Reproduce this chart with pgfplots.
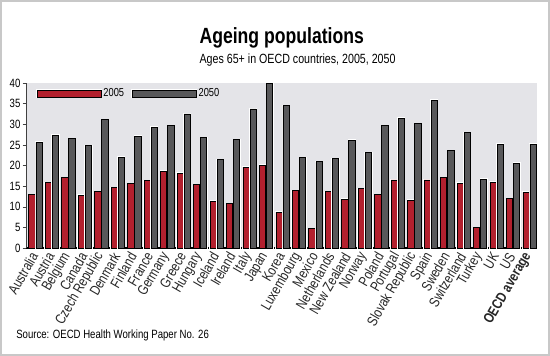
\documentclass[border=0pt]{standalone}
\usepackage{pgfplots}
\usepackage{pgfplotstable}
\pgfplotsset{compat=1.18}
\usepackage{fontspec}
\setmainfont{Liberation Sans}[FakeStretch=0.8]
\definecolor{barred}{HTML}{B3202E}
\definecolor{bargray}{HTML}{58585A}
\definecolor{bgc}{HTML}{E4E4E8}
\definecolor{framec}{HTML}{C8C8C8}

\pgfplotstableread{
idx y05 y50
0  12.9 25.6
1  15.8 27.3
2  17.1 26.5
3  12.8 24.8
4  13.7 31.1
5  14.6 22.0
6  15.6 27.1
7  16.3 29.3
8  18.6 29.7
9  18.1 32.5
10 15.4 26.8
11 11.3 21.4
12 10.8 26.3
13 19.6 33.7
14 20.1 39.8
15  8.7 34.5
16 13.9 21.9
17  4.7 20.9
18 13.7 21.7
19 11.8 26.1
20 14.4 23.1
21 12.9 29.7
22 16.5 31.5
23 11.6 30.1
24 16.5 35.8
25 17.1 23.6
26 15.7 28.0
27  4.9 16.7
28 15.9 25.2
29 12.0 20.5
30 13.5 25.2
}\datatable

\begin{document}
\begin{tikzpicture}
\useasboundingbox (0,0) rectangle (412.5pt,267pt);
\draw[framec, line width=1.2pt] (0.6pt,0.6pt) rectangle (411.9pt,266.4pt);
\node[anchor=base west, inner sep=0pt, font=\fontsize{16.5}{18}\selectfont\bfseries] at (149.5pt,234pt) {Ageing populations};
\node[anchor=base west, inner sep=0pt, font=\fontsize{10}{12}\selectfont] at (149.5pt,219.5pt) {Ages 65+ in OECD countries, 2005, 2050};
\node[anchor=base west, inner sep=0pt, font=\fontsize{9}{11}\selectfont] at (12pt,12.75pt) {Source: OECD Health Working Paper No. 26};
\begin{axis}[
  at={(19.5pt,81pt)}, anchor=south west,
  scale only axis, width=383.25pt, height=123.75pt,
  xmin=-0.58, xmax=30.45, ymin=0, ymax=40,
  axis background/.style={fill=bgc},
  axis x line*=bottom, axis y line*=left,
  x axis line style={line width=1.2pt, -},
  y axis line style={black!75, -},
  xtick={0,...,30},
  xticklabels={Australia,Austria,Belgium,Canada,Czech Republic,Denmark,Finland,France,Germany,Greece,Hungary,Iceland,Ireland,Italy,Japan,Korea,Luxembourg,Mexico,Netherlands,New Zealand,Norway,Poland,Portugal,Slovak Republic,Spain,Sweden,Switzerland,Turkey,UK,US,\textbf{OECD average}},
  x tick label style={rotate=60, anchor=east, inner sep=2pt, text=black!85, font=\fontsize{10.8}{11}\selectfont},
  major x tick style={draw=none},
  ytick={0,5,...,40},
  y tick label style={font=\fontsize{9}{10}\selectfont, inner sep=1.5pt},
  /pgf/number format/assume math mode=true,
  tick align=outside, major tick length=2.5pt,
  major y tick style={black!75},
  ybar, bar width=4.7pt,
  legend style={at={(0.0196,0.936)}, anchor=west, draw=none, fill=none,
    legend columns=2, font=\fontsize{8.7}{9}\selectfont, inner sep=0pt,
    nodes={inner sep=1pt},
    /tikz/every even column/.append style={column sep=4.5pt}},
  legend image code/.code={\draw[#1, draw=black, line width=0.6pt] (0pt,-2.6pt) rectangle (48pt,2.6pt);},
  clip=false,
]
\addplot[fill=barred, draw=black, line width=0.6pt, bar shift=-2.65pt,
  preaction={draw=white, line width=1.4pt}] table[x=idx, y=y05] {\datatable};
\addlegendentry{2005}
\addplot[fill=bargray, draw=black, line width=0.6pt, bar shift=2.65pt,
  preaction={draw=white, line width=1.4pt}] table[x=idx, y=y50] {\datatable};
\addlegendentry{2050}
\end{axis}
\end{tikzpicture}
\end{document}
